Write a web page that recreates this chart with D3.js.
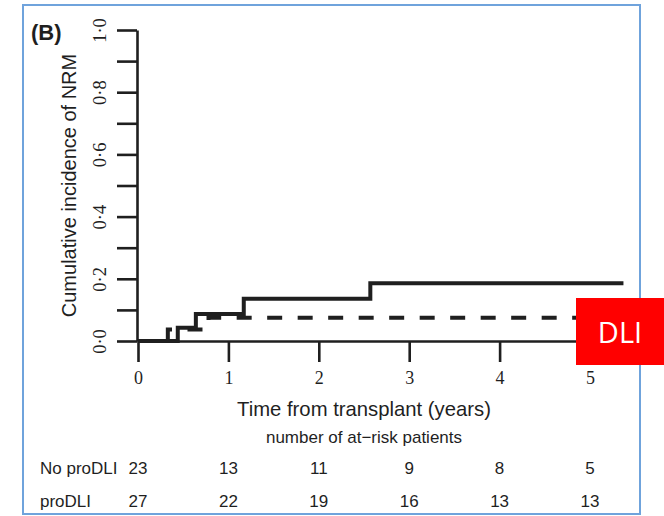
<!DOCTYPE html>
<html>
<head>
<meta charset="utf-8">
<script src="https://cdn.jsdelivr.net/npm/d3@7"></script>
<style>
  html, body { margin: 0; padding: 0; background: #fff; }
  svg { display: block; }
</style>
</head>
<body>
<svg id="chart" width="664" height="516"></svg>
<script>
// Cumulative incidence of non-relapse mortality by group
const noProTimes  = [0, 0.44, 0.64, 1.17, 2.57, 5.37];
const noProValues = [0, 0.043, 0.087, 0.136, 0.186, 0.186];
const proTimes    = [0, 0.33, 0.78, 5.37];
const proValues   = [0, 0.037, 0.075, 0.075];

// Axis ticks
const xTicks = [0, 1, 2, 3, 4, 5];
const yTicks = [0, 0.1, 0.2, 0.3, 0.4, 0.5, 0.6, 0.7, 0.8, 0.9, 1.0];
const yLabelled = [0, 0.2, 0.4, 0.6, 0.8, 1.0];

// Number-at-risk table
const riskGroups = ["No proDLI", "proDLI"];
const riskNoPro  = [23, 13, 11, 9, 8, 5];
const riskPro    = [27, 22, 19, 16, 13, 13];

const svg = d3.select("#chart");
const ink = "#1f1f1f";
const sans = "Liberation Sans, Arial, sans-serif";
const serif = "Liberation Serif, Times New Roman, serif";

const x = d3.scaleLinear().domain([0, 5]).range([138, 590]);
const y = d3.scaleLinear().domain([0, 1]).range([341, 30]);

// Panel frame
svg.append("rect")
  .attr("x", 23).attr("y", 5)
  .attr("width", 617).attr("height", 509)
  .attr("fill", "none")
  .attr("stroke", "#6fa3dc")
  .attr("stroke-width", 2);

// Panel letter
svg.append("text")
  .attr("x", 31).attr("y", 40)
  .attr("font-family", sans)
  .attr("font-weight", "bold")
  .attr("font-size", 22)
  .attr("fill", ink)
  .text("(B)");

// Y axis
const fmtY = v => v.toFixed(1).replace(".", "\u00B7");
const yAxis = d3.axisLeft(y)
  .tickValues(yTicks)
  .tickSize(20)
  .tickSizeOuter(0)
  .tickFormat(v => yLabelled.some(l => Math.abs(l - v) < 1e-9) ? fmtY(v) : "");

const gy = svg.append("g")
  .attr("transform", `translate(${x(0) - 1},0)`)
  .call(yAxis);
gy.select(".domain").attr("stroke", ink).attr("stroke-width", 2.6);
gy.selectAll(".tick line").attr("stroke", ink).attr("stroke-width", 2.6);
gy.selectAll(".tick text")
  .attr("x", 0)
  .attr("dy", "0.35em")
  .attr("transform", "translate(-37,0) rotate(-90)")
  .attr("text-anchor", "middle")
  .attr("font-family", serif)
  .attr("font-size", 18.5)
  .attr("fill", ink);

// X axis
const xAxis = d3.axisBottom(x)
  .tickValues(xTicks)
  .tickSize(21)
  .tickSizeOuter(0)
  .tickPadding(9)
  .tickFormat(d3.format("d"));

const gx = svg.append("g")
  .attr("transform", `translate(0,${y(0)})`)
  .call(xAxis);
gx.select(".domain").attr("stroke", ink).attr("stroke-width", 2.6);
gx.selectAll(".tick line").attr("stroke", ink).attr("stroke-width", 2.6);
gx.selectAll(".tick text")
  .attr("font-family", serif)
  .attr("font-size", 18)
  .attr("fill", ink);

// Step curves
const stepLine = d3.line()
  .x(d => x(d[0]))
  .y(d => y(d[1]))
  .curve(d3.curveStepAfter);

svg.append("path")
  .datum(d3.zip(proTimes, proValues))
  .attr("d", stepLine)
  .attr("fill", "none")
  .attr("stroke", ink)
  .attr("stroke-width", 4)
  .attr("stroke-dasharray", "15,15.5");

svg.append("path")
  .datum(d3.zip(noProTimes, noProValues))
  .attr("d", stepLine)
  .attr("fill", "none")
  .attr("stroke", ink)
  .attr("stroke-width", 4);

// Axis titles
svg.append("text")
  .attr("transform", `translate(76,${(y(0) + y(1)) / 2}) rotate(-90)`)
  .attr("text-anchor", "middle")
  .attr("font-family", sans)
  .attr("font-size", 20)
  .attr("fill", ink)
  .text("Cumulative incidence of NRM");

svg.append("text")
  .attr("x", (x(0) + x(5)) / 2)
  .attr("y", 416)
  .attr("text-anchor", "middle")
  .attr("font-family", sans)
  .attr("font-size", 20.3)
  .attr("fill", ink)
  .text("Time from transplant (years)");

svg.append("text")
  .attr("x", (x(0) + x(5)) / 2)
  .attr("y", 443)
  .attr("text-anchor", "middle")
  .attr("font-family", sans)
  .attr("font-size", 17)
  .attr("fill", ink)
  .text("number of at\u2212risk patients");

// At-risk rows
const rows = [riskNoPro, riskPro];
const rowY = [474, 507];
rows.forEach((vals, i) => {
  svg.append("text")
    .attr("x", 40)
    .attr("y", rowY[i])
    .attr("font-family", sans)
    .attr("font-size", 17)
    .attr("fill", ink)
    .text(riskGroups[i]);
  svg.append("g")
    .selectAll("text")
    .data(vals)
    .join("text")
    .attr("x", (d, j) => x(xTicks[j]))
    .attr("y", rowY[i])
    .attr("text-anchor", "middle")
    .attr("font-family", sans)
    .attr("font-size", 17)
    .attr("fill", ink)
    .text(d => d);
});

// Group tag
const tag = svg.append("g");
tag.append("rect")
  .attr("x", 576).attr("y", 298)
  .attr("width", 88).attr("height", 67)
  .attr("fill", "#ff0000");
tag.append("text")
  .attr("x", 620).attr("y", 333)
  .attr("dy", "0.35em")
  .attr("text-anchor", "middle")
  .attr("font-family", "Open Sans, Liberation Sans, sans-serif")
  .attr("font-size", 29)
  .attr("fill", "#ffffff")
  .text("DLI");
</script>
</body>
</html>
